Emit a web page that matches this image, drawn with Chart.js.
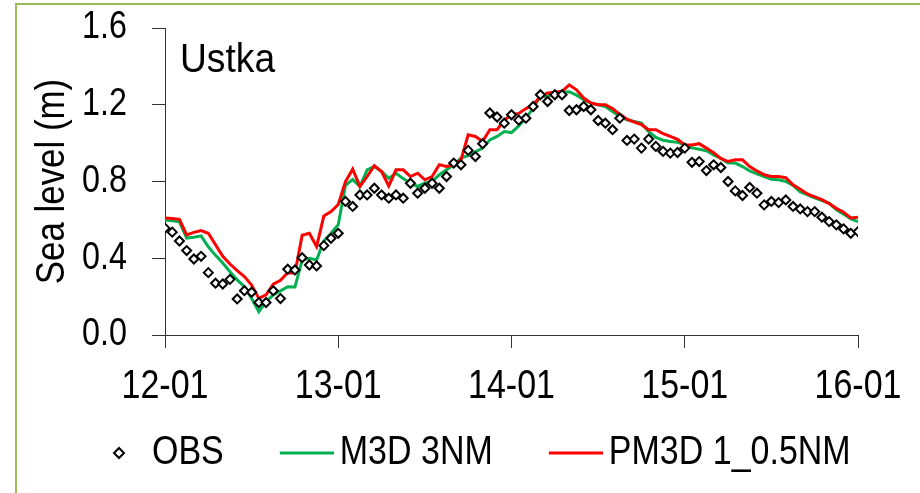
<!DOCTYPE html>
<html>
<head>
<meta charset="utf-8">
<script src="https://cdn.jsdelivr.net/npm/chart.js@4/dist/chart.umd.min.js"></script>
<style>
  html, body { margin: 0; padding: 0; background: #fff; }
  #wrap { position: relative; width: 920px; height: 493px; }
  #frame { position: absolute; left: 15px; top: 3px; right: 0; bottom: 0;
           border-top: 2px solid #9bbb59; border-left: 2px solid #9bbb59; pointer-events: none; }
  canvas { display: block; }
</style>
</head>
<body>
<div id="wrap">
  <canvas id="c" width="920" height="493"></canvas>
  <div id="frame"></div>
</div>
<script>
// ---- data (hours since 12-01 00:00, hourly) ----
const dateLabels = ['12-01', '13-01', '14-01', '15-01', '16-01'];
const yTickValues = [0.0, 0.4, 0.8, 1.2, 1.6];
const seriesNames = ['OBS', 'M3D 3NM', 'PM3D 1_0.5NM'];
const stationName = 'Ustka';
const yTitle = 'Sea level (m)';

const obs = [
  0.557, 0.536, 0.49, 0.44, 0.396, 0.41, 0.325, 0.27, 0.266, 0.29,
  0.188, 0.231, 0.223, 0.169, 0.169, 0.231, 0.19, 0.343, 0.339, 0.403,
  0.365, 0.36, 0.466, 0.504, 0.53, 0.696, 0.67, 0.73, 0.73, 0.765,
  0.73, 0.713, 0.73, 0.713, 0.791, 0.739, 0.765, 0.791, 0.765, 0.826,
  0.896, 0.887, 0.962, 0.93, 0.997, 1.157, 1.136, 1.104, 1.148, 1.12,
  1.13, 1.191, 1.252, 1.217, 1.252, 1.252, 1.17, 1.174, 1.191, 1.174,
  1.118, 1.104, 1.07, 1.13, 1.014, 1.021, 0.974, 1.021, 0.983, 0.957,
  0.948, 0.951, 0.974, 0.9, 0.904, 0.857, 0.887, 0.873, 0.8, 0.751,
  0.727, 0.769, 0.739, 0.678, 0.696, 0.69, 0.704, 0.67, 0.657, 0.643,
  0.643, 0.614, 0.591, 0.574, 0.553, 0.53, 0.539
];
const m3d = [
  0.60, 0.595, 0.59, 0.505, 0.51, 0.517, 0.46, 0.415, 0.375, 0.33,
  0.287, 0.252, 0.19, 0.122, 0.174, 0.209, 0.23, 0.252, 0.25, 0.39,
  0.40, 0.391, 0.49, 0.53, 0.575, 0.78, 0.81, 0.774, 0.861, 0.878,
  0.852, 0.817, 0.843, 0.815, 0.791, 0.774, 0.791, 0.80, 0.835, 0.861,
  0.887, 0.922, 0.935, 0.955, 0.974, 1.017, 1.035, 1.06, 1.055, 1.09,
  1.13, 1.183, 1.243, 1.243, 1.261, 1.265, 1.268, 1.25, 1.226, 1.209,
  1.2, 1.191, 1.165, 1.139, 1.122, 1.113, 1.104, 1.06, 1.03, 1.015,
  1.009, 1.005, 0.99, 0.975, 0.968, 0.96, 0.939, 0.92, 0.896, 0.896,
  0.878, 0.855, 0.84, 0.825, 0.812, 0.809, 0.80, 0.78, 0.745, 0.73,
  0.715, 0.70, 0.687, 0.652, 0.63, 0.605, 0.591
];
const pm3d = [
  0.61, 0.607, 0.603, 0.522, 0.535, 0.544, 0.53, 0.47, 0.41, 0.37,
  0.335, 0.305, 0.26, 0.191, 0.209, 0.265, 0.285, 0.325, 0.322, 0.52,
  0.53, 0.461, 0.62, 0.643, 0.68, 0.80, 0.864, 0.774, 0.826, 0.882,
  0.852, 0.777, 0.861, 0.861, 0.826, 0.843, 0.809, 0.826, 0.887, 0.878,
  0.887, 0.913, 1.043, 1.035, 1.009, 1.07, 1.07, 1.12, 1.148, 1.155,
  1.18, 1.2, 1.243, 1.261, 1.265, 1.27, 1.304, 1.278, 1.235, 1.209,
  1.2, 1.2, 1.18, 1.15, 1.125, 1.11, 1.096, 1.07, 1.07, 1.05,
  1.035, 1.02, 0.99, 0.99, 0.997, 0.974, 0.95, 0.92, 0.904, 0.913,
  0.913, 0.878, 0.855, 0.835, 0.826, 0.826, 0.82, 0.783, 0.76, 0.735,
  0.72, 0.705, 0.685, 0.66, 0.64, 0.61, 0.614
];
const hours = obs.map((_, i) => i);

// ---- styling ----
const FONT = "'Liberation Sans', Arial, sans-serif";
const AXIS = '#333333';
const GREEN = '#00b050';
const RED = '#ff0000';
const TEXT_SX = 0.85;        // horizontal condensing of the (Arial-like) text
const LEGEND_BOX = 94;       // legend symbol slot width

const toPts = (arr) => hours.map((h, i) => ({ x: h, y: arr[i] }));

// ---- canvas + condensed text ----
const canvas = document.getElementById('c');
const cx = canvas.getContext('2d');
const rawFill = CanvasRenderingContext2D.prototype.fillText;
const rawMeasure = CanvasRenderingContext2D.prototype.measureText;
cx.fillText = function (t, x, y) {
  this.save(); this.translate(x, y); this.scale(TEXT_SX, 1);
  rawFill.call(this, t, 0, 0);
  this.restore();
};
cx.measureText = function (t) {
  const m = rawMeasure.call(this, t);
  return { width: m.width * TEXT_SX,
           actualBoundingBoxAscent: m.actualBoundingBoxAscent,
           actualBoundingBoxDescent: m.actualBoundingBoxDescent,
           actualBoundingBoxLeft: m.actualBoundingBoxLeft * TEXT_SX,
           actualBoundingBoxRight: m.actualBoundingBoxRight * TEXT_SX };
};

// ---- legend symbols (symbol at the right end of the slot) ----
function makeIcon(kind, color) {
  const c = document.createElement('canvas');
  c.width = LEGEND_BOX + 28; c.height = 14;
  const g = c.getContext('2d');
  if (kind === 'line') {
    g.strokeStyle = color; g.lineWidth = 3; g.lineCap = 'butt';
    g.beginPath(); g.moveTo(c.width - 54, 7); g.lineTo(c.width, 7); g.stroke();
  } else {
    const cxp = c.width - 27;
    g.beginPath();
    g.moveTo(cxp, 2); g.lineTo(cxp + 5, 7); g.lineTo(cxp, 12); g.lineTo(cxp - 5, 7); g.closePath();
    g.fillStyle = '#fff'; g.fill();
    g.lineWidth = 2; g.strokeStyle = '#000'; g.stroke();
  }
  return c;
}
const legendIcons = [makeIcon('diamond'), makeIcon('line', GREEN), makeIcon('line', RED)];

const stationLabel = {
  id: 'stationLabel',
  afterDraw(chart) {
    const { ctx, chartArea } = chart;
    ctx.save();
    ctx.font = '40px ' + FONT;
    ctx.fillStyle = '#000';
    ctx.textBaseline = 'alphabetic';
    ctx.textAlign = 'left';
    ctx.translate(chartArea.left + 15, chartArea.top + 44);
    ctx.scale(0.93, 1);
    rawFill.call(ctx, stationName, 0, 0);
    ctx.restore();
  }
};

new Chart(canvas, {
  type: 'line',
  data: {
    datasets: [
      {
        label: seriesNames[0], data: toPts(obs), showLine: false,
        pointStyle: 'rectRot', pointRadius: 4.5, pointBorderWidth: 2,
        borderColor: '#000', backgroundColor: '#fff',
        pointBackgroundColor: '#fff', pointBorderColor: '#000', order: 0
      },
      {
        label: seriesNames[1], data: toPts(m3d), borderColor: GREEN, backgroundColor: GREEN,
        borderWidth: 3, pointRadius: 0, tension: 0, order: 2
      },
      {
        label: seriesNames[2], data: toPts(pm3d), borderColor: RED, backgroundColor: RED,
        borderWidth: 3, pointRadius: 0, tension: 0, order: 1
      }
    ]
  },
  options: {
    responsive: false,
    animation: false,
    devicePixelRatio: 1,
    layout: { padding: { left: 36, right: 62, top: 28, bottom: 10 } },
    scales: {
      x: {
        type: 'linear', min: 0, max: 96,
        afterBuildTicks(s) { s.ticks = dateLabels.map((_, i) => ({ value: i * 24 })); },
        afterFit(s) { s.height = 96; s.paddingLeft = 0; s.paddingRight = 0; },
        ticks: {
          callback: (v) => dateLabels[Math.round(v / 24)],
          font: { family: FONT, size: 40 }, color: '#000', padding: 15, maxRotation: 0,
          autoSkip: false
        },
        grid: { drawOnChartArea: false, drawTicks: true, tickLength: 13, color: AXIS, lineWidth: 1 },
        border: { color: AXIS, width: 1 }
      },
      y: {
        type: 'linear', min: 0, max: 1.6,
        afterBuildTicks(s) { s.ticks = yTickValues.map(v => ({ value: v })); },
        afterFit(s) { s.width = 129; s.paddingTop = 0; s.paddingBottom = 0; },
        ticks: {
          callback: (v) => v.toFixed(1),
          font: { family: FONT, size: 38 }, color: '#000', padding: 25
        },
        title: {
          display: true, text: yTitle, color: '#000',
          font: { family: FONT, size: 41 }, padding: { top: -8, bottom: 0 }
        },
        grid: { drawOnChartArea: false, drawTicks: true, tickLength: 13, color: AXIS, lineWidth: 1 },
        border: { color: AXIS, width: 1 }
      }
    },
    plugins: {
      tooltip: { enabled: false },
      legend: {
        position: 'bottom', align: 'start',
        labels: {
          usePointStyle: true, pointStyleWidth: LEGEND_BOX, boxHeight: 38, padding: 2,
          color: '#000', font: { family: FONT, size: 40 },
          sort: (a, b) => a.datasetIndex - b.datasetIndex,
          generateLabels(chart) {
            const items = Chart.defaults.plugins.legend.labels.generateLabels(chart);
            items.forEach(it => { it.pointStyle = legendIcons[it.datasetIndex]; });
            return items;
          }
        }
      }
    }
  },
  plugins: [stationLabel]
});
</script>
</body>
</html>
